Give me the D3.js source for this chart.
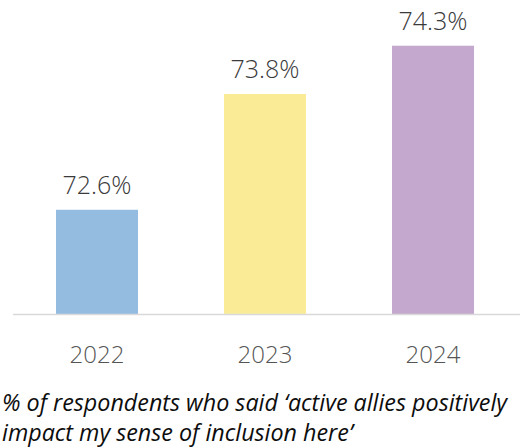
<!DOCTYPE html>
<html>
<head>
<meta charset="utf-8">
<script src="https://cdn.jsdelivr.net/npm/d3@7"></script>
<style>
  body { margin: 0; background: #fff; }
  svg { display: block; font-family: "Open Sans", "Noto Sans", sans-serif; }
</style>
</head>
<body>
<div id="chart"></div>
<script>
let years = ["2022", "2023", "2024"];
let values = [72.6, 73.8, 74.3];
let colors = ["#93bce0", "#faec97", "#c5a8ce"];
let caption = ["% of respondents who said \u2018active allies positively", "impact my sense of inclusion here\u2019"];

let width = 520, height = 448;
let baseline = 314;

let svg = d3.select("#chart")
    .append("svg")
    .attr("width", width)
    .attr("height", height);

let x = d3.scaleBand()
    .domain(years)
    .range([13, 517])
    .paddingInner(0.512)
    .paddingOuter(0.256);

// axis does not start at zero in the original
let y = d3.scaleLinear()
    .domain([71.52, 74.52])
    .range([baseline, 24.5]);

let data = years.map((d, i) => ({ year: d, value: values[i], color: colors[i] }));

svg.selectAll("rect.bar")
    .data(data)
    .enter()
    .append("rect")
    .attr("class", "bar")
    .attr("x", d => x(d.year))
    .attr("y", d => y(d.value))
    .attr("width", x.bandwidth())
    .attr("height", d => baseline - y(d.value))
    .attr("fill", d => d.color);

svg.selectAll("text.value")
    .data(data)
    .enter()
    .append("text")
    .attr("class", "value")
    .attr("x", d => x(d.year) + x.bandwidth() / 2)
    .attr("y", d => y(d.value) - 16)
    .attr("text-anchor", "middle")
    .style("font-size", "25px")
    .style("font-weight", 350)
    .attr("fill", "#3a3a3a")
    .text(d => d.value.toFixed(1) + "%");

let xAxis = svg.append("g")
    .attr("transform", `translate(0, ${baseline})`)
    .call(d3.axisBottom(x).tickSize(0).tickPadding(32));

xAxis.select(".domain")
    .attr("d", `M13,0.5H${width}`)
    .attr("stroke", "#d9d9d9")
    .attr("stroke-width", 1.5);

xAxis.selectAll("text")
    .style("font-size", "24px")
    .style("font-weight", 350)
    .style("font-family", "\"Open Sans\", \"Noto Sans\", sans-serif")
    .attr("fill", "#555555");

svg.append("g")
    .selectAll("text")
    .data(caption)
    .enter()
    .append("text")
    .attr("x", 2)
    .attr("y", (d, i) => 411 + i * 30)
    .style("font-size", "23.3px")
    .style("font-style", "italic")
    .attr("fill", "#0d0d0d")
    .text(d => d);
</script>
</body>
</html>
